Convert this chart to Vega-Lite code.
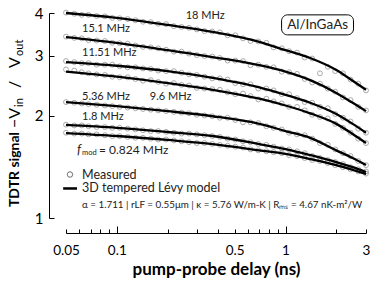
{
  "$schema": "https://vega.github.io/schema/vega-lite/v6.json",
  "width": 300,
  "height": 205,
  "autosize": {"type": "none"},
  "padding": {"left": 66, "top": 13, "right": 8, "bottom": 63},
  "config": {"font": "Lato", "view": {"stroke": null}, "axis": {"grid": false, "domainColor": "black", "tickColor": "black", "labelColor": "black", "titleColor": "black"}},
  "datasets": {
    "meas": [
      {"t":0.05,"a":4.01,"b":3.41,"c":2.89,"d":2.73,"e":2.19,"f":1.88,"g":1.78},
      {"t":0.056,"a":3.98,"b":3.38,"c":2.87,"d":2.71,"e":2.18,"f":1.87,"g":1.77},
      {"t":0.062,"a":3.95,"b":3.37,"c":2.85,"d":2.68,"e":2.17,"f":1.87,"g":1.77},
      {"t":0.068,"a":3.95,"b":3.33,"c":2.85,"d":2.66,"e":2.16,"f":1.86,"g":1.76},
      {"t":0.076,"a":3.92,"b":3.32,"c":2.82,"d":2.64,"e":2.15,"f":1.85,"g":1.76},
      {"t":0.085,"a":3.91,"b":3.31,"c":2.82,"d":2.63,"e":2.14,"f":1.85,"g":1.75},
      {"t":0.094,"a":3.87,"b":3.27,"c":2.82,"d":2.60,"e":2.13,"f":1.84,"g":1.74},
      {"t":0.104,"a":3.86,"b":3.26,"c":2.79,"d":2.59,"e":2.12,"f":1.84,"g":1.74},
      {"t":0.116,"a":3.84,"b":3.25,"c":2.77,"d":2.59,"e":2.11,"f":1.83,"g":1.73},
      {"t":0.129,"a":3.81,"b":3.21,"c":2.77,"d":2.56,"e":2.10,"f":1.82,"g":1.72},
      {"t":0.143,"a":3.77,"b":3.18,"c":2.75,"d":2.53,"e":2.09,"f":1.81,"g":1.72},
      {"t":0.159,"a":3.76,"b":3.17,"c":2.74,"d":2.54,"e":2.08,"f":1.80,"g":1.71},
      {"t":0.176,"a":3.72,"b":3.15,"c":2.71,"d":2.51,"e":2.07,"f":1.80,"g":1.70},
      {"t":0.196,"a":3.71,"b":3.12,"c":2.70,"d":2.48,"e":2.06,"f":1.79,"g":1.70},
      {"t":0.218,"a":3.66,"b":3.08,"c":2.70,"d":2.49,"e":2.05,"f":1.78,"g":1.69},
      {"t":0.242,"a":3.64,"b":3.08,"c":2.67,"d":2.46,"e":2.04,"f":1.77,"g":1.68},
      {"t":0.268,"a":3.62,"b":3.04,"c":2.64,"d":2.45,"e":2.03,"f":1.77,"g":1.67},
      {"t":0.298,"a":3.58,"b":3.01,"c":2.63,"d":2.41,"e":2.01,"f":1.76,"g":1.66},
      {"t":0.331,"a":3.54,"b":2.99,"c":2.60,"d":2.40,"e":2.00,"f":1.75,"g":1.66},
      {"t":0.368,"a":3.53,"b":2.98,"c":2.57,"d":2.39,"e":1.99,"f":1.74,"g":1.65},
      {"t":0.408,"a":3.51,"b":2.95,"c":2.57,"d":2.38,"e":1.97,"f":1.73,"g":1.64},
      {"t":0.454,"a":3.44,"b":2.90,"c":2.55,"d":2.34,"e":1.97,"f":1.71,"g":1.63},
      {"t":0.504,"a":3.44,"b":2.90,"c":2.49,"d":2.31,"e":1.94,"f":1.70,"g":1.62},
      {"t":0.56,"a":3.37,"b":2.89,"c":2.47,"d":2.32,"e":1.91,"f":1.68,"g":1.61},
      {"t":0.62,"a":3.31,"b":2.81,"c":2.47,"d":2.28,"e":1.91,"f":1.67,"g":1.59},
      {"t":0.69,"a":3.30,"b":2.82,"c":2.40,"d":2.23,"e":1.90,"f":1.65,"g":1.58},
      {"t":0.77,"a":3.27,"b":2.78,"c":2.40,"d":2.24,"e":1.86,"f":1.64,"g":1.57},
      {"t":0.85,"a":3.17,"b":2.77,"c":2.37,"d":2.20,"e":1.84,"f":1.62,"g":1.56},
      {"t":0.95,"a":3.15,"b":2.69,"c":2.31,"d":2.17,"e":1.82,"f":1.60,"g":1.55},
      {"t":1.05,"a":3.09,"b":2.68,"c":2.31,"d":2.12,"e":1.78,"f":1.59,"g":1.53},
      {"t":1.17,"a":3.06,"b":2.65,"c":2.25,"d":2.12,"e":1.76,"f":1.57,"g":1.52},
      {"t":1.3,"a":2.96,"b":2.56,"c":2.19,"d":2.07,"e":1.75,"f":1.55,"g":1.50},
      {"t":1.44,"a":2.94,"b":2.50,"c":2.18,"d":2.01,"e":1.71,"f":1.52,"g":1.48},
      {"t":1.6,"a":2.66,"b":2.48,"c":2.12,"d":1.98,"e":1.66,"f":1.50,"g":1.47},
      {"t":1.78,"a":2.78,"b":2.40,"c":2.10,"d":1.96,"e":1.64,"f":1.48,"g":1.45},
      {"t":1.97,"a":2.70,"b":2.35,"c":2.02,"d":1.89,"e":1.59,"f":1.46,"g":1.43},
      {"t":2.19,"a":2.66,"b":2.26,"c":1.97,"d":1.84,"e":1.55,"f":1.44,"g":1.41},
      {"t":2.43,"a":2.55,"b":2.22,"c":1.92,"d":1.78,"e":1.52,"f":1.41,"g":1.39},
      {"t":2.7,"a":2.48,"b":2.12,"c":1.83,"d":1.71,"e":1.47,"f":1.39,"g":1.37},
      {"t":3.0,"a":2.37,"b":2.07,"c":1.78,"d":1.66,"e":1.43,"f":1.37,"g":1.35}
    ],
    "model": [
      {"t":0.05,"a":4.00,"b":3.40,"c":2.87,"d":2.69,"e":2.19,"f":1.876,"g":1.776},
      {"t":0.1,"a":3.87,"b":3.27,"c":2.80,"d":2.60,"e":2.13,"f":1.84,"g":1.741},
      {"t":0.2,"a":3.69,"b":3.11,"c":2.70,"d":2.49,"e":2.06,"f":1.789,"g":1.695},
      {"t":0.37,"a":3.52,"b":2.97,"c":2.58,"d":2.38,"e":1.99,"f":1.741,"g":1.649},
      {"t":0.7,"a":3.29,"b":2.81,"c":2.42,"d":2.24,"e":1.89,"f":1.649,"g":1.58},
      {"t":1.0,"a":3.11,"b":2.69,"c":2.30,"d":2.14,"e":1.80,"f":1.594,"g":1.542},
      {"t":1.4,"a":2.95,"b":2.54,"c":2.18,"d":2.03,"e":1.72,"f":1.531,"g":1.49},
      {"t":2.0,"a":2.72,"b":2.33,"c":2.02,"d":1.89,"e":1.58,"f":1.46,"g":1.43},
      {"t":2.5,"a":2.53,"b":2.18,"c":1.89,"d":1.765,"e":1.50,"f":1.41,"g":1.384},
      {"t":3.0,"a":2.38,"b":2.06,"c":1.78,"d":1.66,"e":1.43,"f":1.365,"g":1.346}
    ],
    "labels": [
      {"t":0.256,"v":3.92,"label":"18 MHz"},
      {"t":0.0622,"v":3.59,"label":"15.1 MHz"},
      {"t":0.0622,"v":3.05,"label":"11.51 MHz"},
      {"t":0.0622,"v":2.27,"label":"5.36 MHz"},
      {"t":0.157,"v":2.27,"label":"9.6 MHz"},
      {"t":0.0622,"v":1.98,"label":"1.8 MHz"}
    ],
    "ytitle": [{"t": 0.025, "v": 1.077, "v2": 1.838}]
  },
  "layer": [
    {
      "data": {"name": "meas"},
      "transform": [{"fold": ["a","b","c","d","e","f","g"], "as": ["curve","v"]}],
      "mark": {"type": "point", "shape": "circle", "filled": false, "stroke": "#7a7a7a", "strokeWidth": 0.9, "size": 24},
      "encoding": {
        "x": {"field": "t", "type": "quantitative",
          "scale": {"type": "log", "domain": [0.05, 3], "nice": false},
          "axis": {
            "values": [0.05,0.06,0.07,0.08,0.09,0.1,0.2,0.3,0.4,0.5,0.6,0.7,0.8,0.9,1,2,3],
            "format": "~g",
            "labelExpr": "(datum.value === 0.05 || datum.value === 0.1 || datum.value === 0.5 || datum.value === 1 || datum.value === 3) ? datum.label : ''",
            "offset": 15,
            "tickSize": {"condition": {"test": "datum.value === 0.1 || datum.value === 1", "value": -7}, "value": -4},
            "labelPadding": {"condition": {"test": "datum.value === 0.1 || datum.value === 1", "value": 17}, "value": 14},
            "labelFlush": false,
            "labelOverlap": false,
            "labelFontSize": 13.5,
            "title": "pump-probe delay (ns)",
            "titleFontSize": 17,
            "titleFontWeight": "bold",
            "titlePadding": 5
          }
        },
        "y": {"field": "v", "type": "quantitative",
          "scale": {"type": "log", "domain": [1, 4], "nice": false},
          "axis": {"values": [1,2,3,4], "format": "~g", "offset": 17, "tickSize": -5, "labelPadding": 11, "labelFontSize": 15, "title": null}
        },
        "detail": {"field": "curve"}
      }
    },
    {
      "data": {"name": "model"},
      "transform": [{"fold": ["a","b","c","d","e","f","g"], "as": ["curve","v"]}],
      "mark": {"type": "line", "color": "black", "strokeWidth": 2.3, "interpolate": "monotone"},
      "encoding": {
        "x": {"field": "t", "type": "quantitative", "scale": {"type": "log", "domain": [0.05, 3], "nice": false}},
        "y": {"field": "v", "type": "quantitative", "scale": {"type": "log", "domain": [1, 4], "nice": false}},
        "detail": {"field": "curve"}
      }
    },
    {
      "data": {"name": "labels"},
      "mark": {"type": "text", "align": "left", "baseline": "middle", "fontSize": 11, "color": "#222"},
      "encoding": {
        "x": {"field": "t", "type": "quantitative"},
        "y": {"field": "v", "type": "quantitative"},
        "text": {"field": "label"}
      }
    },
    {
      "data": {"values": [{"t": 0.0581, "v": 1.584}]},
      "layer": [
        {"mark": {"type": "text", "align": "left", "baseline": "middle", "fontSize": 13, "fontStyle": "italic", "text": "f", "color": "#222"},
         "encoding": {"x": {"field": "t", "type": "quantitative"}, "y": {"field": "v", "type": "quantitative"}}},
        {"mark": {"type": "text", "align": "left", "baseline": "middle", "fontSize": 7.5, "dx": 5, "dy": 3.5, "text": "mod", "color": "#222"},
         "encoding": {"x": {"field": "t", "type": "quantitative"}, "y": {"field": "v", "type": "quantitative"}}},
        {"mark": {"type": "text", "align": "left", "baseline": "middle", "fontSize": 12, "dx": 22, "text": "= 0.824 MHz", "color": "#222"},
         "encoding": {"x": {"field": "t", "type": "quantitative"}, "y": {"field": "v", "type": "quantitative"}}}
      ]
    },
    {
      "data": {"values": [{"t": 0.0528, "v": 1.342}]},
      "mark": {"type": "point", "shape": "circle", "filled": false, "stroke": "#333", "strokeWidth": 1, "size": 30},
      "encoding": {"x": {"field": "t", "type": "quantitative"}, "y": {"field": "v", "type": "quantitative"}}
    },
    {
      "data": {"values": [{"t": 0.0481, "t2": 0.0581, "v": 1.221}]},
      "mark": {"type": "rule", "color": "black", "strokeWidth": 2.5},
      "encoding": {"x": {"field": "t", "type": "quantitative"}, "x2": {"field": "t2"}, "y": {"field": "v", "type": "quantitative"}}
    },
    {
      "data": {"values": [{"t": 0.0622, "v": 1.342, "label": "Measured"}, {"t": 0.0622, "v": 1.221, "label": "3D tempered Lévy model"}]},
      "mark": {"type": "text", "align": "left", "baseline": "middle", "fontSize": 12.5, "color": "#222"},
      "encoding": {"x": {"field": "t", "type": "quantitative"}, "y": {"field": "v", "type": "quantitative"}, "text": {"field": "label"}}
    },
    {
      "data": {"values": [{"t": 0.0622, "v": 1.09, "label": "α = 1.711 | rLF = 0.55μm | κ = 5.76 W/m-K | Rₘₛ = 4.67 nK-m²/W"}]},
      "mark": {"type": "text", "align": "left", "baseline": "middle", "fontSize": 9.8, "color": "#222"},
      "encoding": {"x": {"field": "t", "type": "quantitative"}, "y": {"field": "v", "type": "quantitative"}, "text": {"field": "label"}}
    },
    {
      "data": {"values": [{"t": 0.948, "t2": 2.53, "v": 3.95, "v2": 3.45}]},
      "mark": {"type": "rect", "fill": "white", "stroke": "black", "strokeWidth": 1, "cornerRadius": 6},
      "encoding": {"x": {"field": "t", "type": "quantitative"}, "x2": {"field": "t2"}, "y": {"field": "v", "type": "quantitative"}, "y2": {"field": "v2"}}
    },
    {
      "data": {"values": [{"t": 1.55, "v": 3.69, "label": "Al/InGaAs"}]},
      "mark": {"type": "text", "align": "center", "baseline": "middle", "fontSize": 13.5, "color": "#222"},
      "encoding": {"x": {"field": "t", "type": "quantitative"}, "y": {"field": "v", "type": "quantitative"}, "text": {"field": "label"}}
    },
    {
      "data": {"name": "ytitle"},
      "layer": [
        {"mark": {"type": "text", "align": "left", "baseline": "middle", "angle": 270, "fontSize": 14, "fontWeight": "bold", "color": "black", "text": "TDTR signal"},
         "encoding": {"x": {"field": "t", "type": "quantitative"}, "y": {"field": "v", "type": "quantitative"}}},
        {"mark": {"type": "text", "align": "left", "baseline": "middle", "angle": 270, "fontSize": 16, "color": "black", "text": "−V"},
         "encoding": {"x": {"field": "t", "type": "quantitative"}, "y": {"field": "v2", "type": "quantitative"}}},
        {"mark": {"type": "text", "align": "left", "baseline": "middle", "angle": 270, "fontSize": 11, "dx": 21, "dy": 5, "color": "black", "text": "in"},
         "encoding": {"x": {"field": "t", "type": "quantitative"}, "y": {"field": "v2", "type": "quantitative"}}},
        {"mark": {"type": "text", "align": "left", "baseline": "middle", "angle": 270, "fontSize": 16, "dx": 40, "color": "black", "text": "/"},
         "encoding": {"x": {"field": "t", "type": "quantitative"}, "y": {"field": "v2", "type": "quantitative"}}},
        {"mark": {"type": "text", "align": "left", "baseline": "middle", "angle": 270, "fontSize": 16, "dx": 60, "color": "black", "text": "V"},
         "encoding": {"x": {"field": "t", "type": "quantitative"}, "y": {"field": "v2", "type": "quantitative"}}},
        {"mark": {"type": "text", "align": "left", "baseline": "middle", "angle": 270, "fontSize": 11, "dx": 72, "dy": 5, "color": "black", "text": "out"},
         "encoding": {"x": {"field": "t", "type": "quantitative"}, "y": {"field": "v2", "type": "quantitative"}}}
      ]
    }
  ]
}
